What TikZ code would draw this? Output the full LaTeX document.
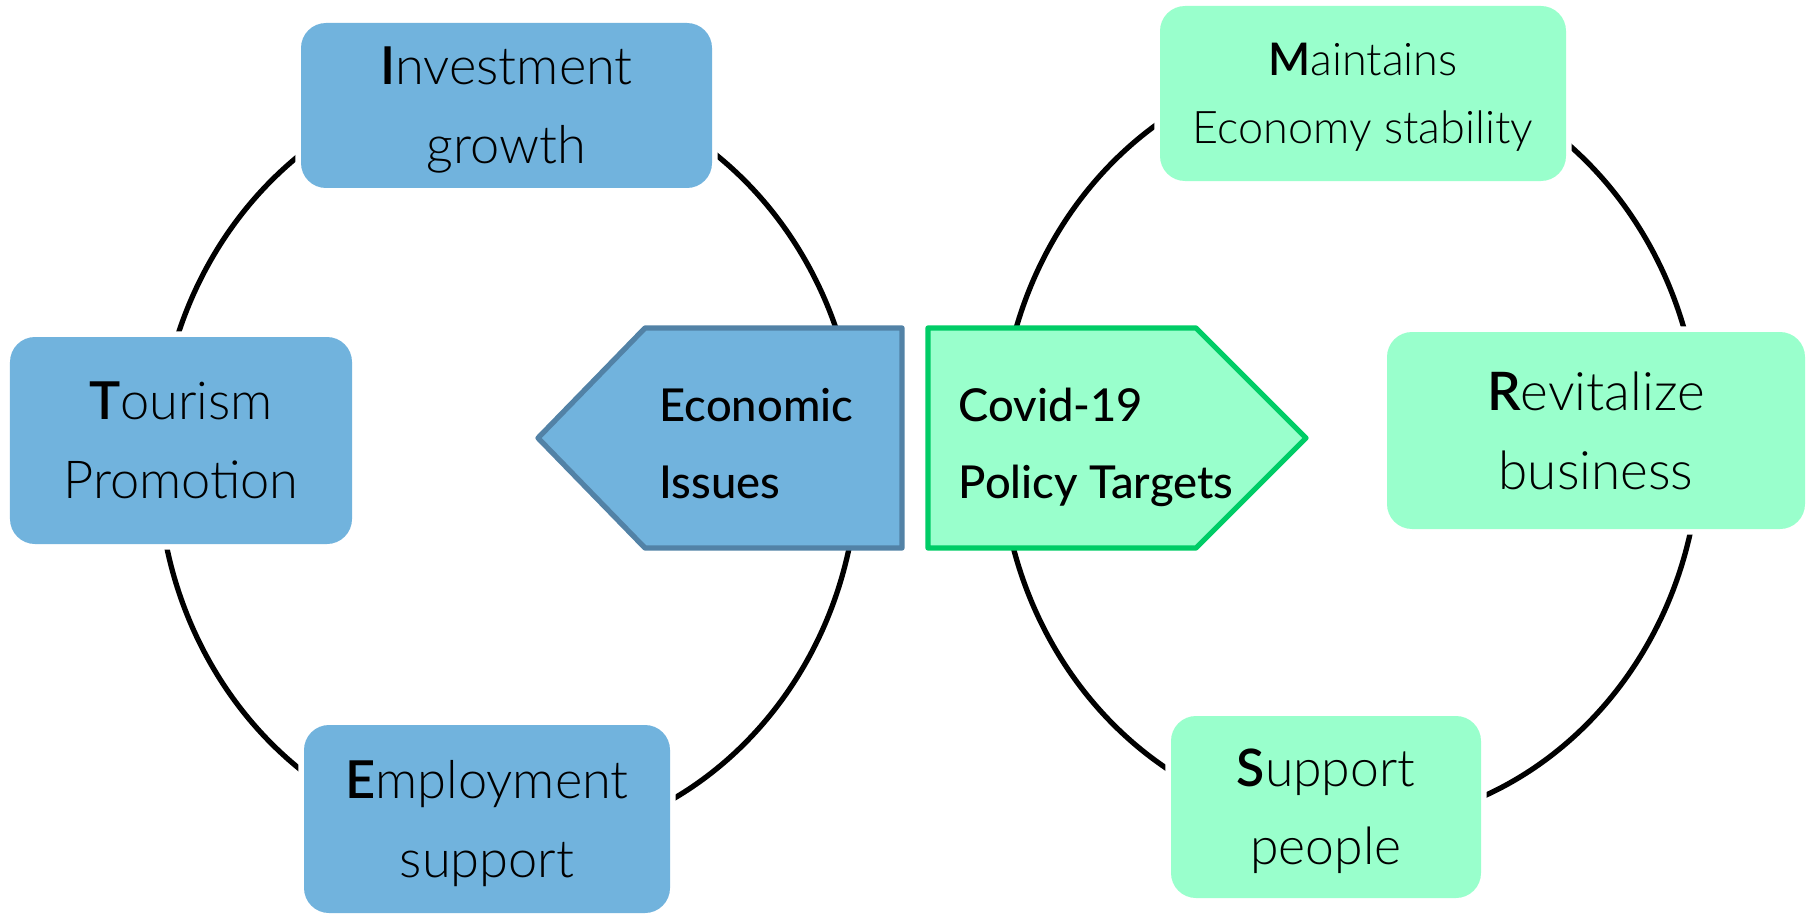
\documentclass[tikz,border=0pt]{standalone}
\usepackage{fontspec}
\setmainfont{Lato Light}[BoldFont = Lato Semibold]
\newfontfamily\medfont{Lato Medium}
\definecolor{boxblue}{RGB}{113,179,221}
\definecolor{edgeblue}{RGB}{82,130,166}
\definecolor{boxmint}{RGB}{153,255,204}
\definecolor{edgegreen}{RGB}{0,204,102}

\begin{document}
\begin{tikzpicture}
\tikzstyle{RingStyle}=[draw = black, line width = 1.5pt]
\tikzstyle{BoxStyle}=[shape = rectangle,
                      rounded corners = 0.25cm,
                      inner sep = 0pt,
                      align = center,
                      text depth = 0pt,
                      preaction = {draw = white, line width = 3.2pt}]
\tikzstyle{ArrowStyle}=[line width = 1.5pt, line join = round]
\tikzstyle{LabelStyle}=[inner sep = 0pt,
                        align = left,
                        text depth = 0pt,
                        font = \medfont\fontsize{12.9}{21.9}\selectfont]
\useasboundingbox (0,0) rectangle (18.12,9.17);
\coordinate (lring) at (5.08, 4.55);
\coordinate (rring) at (13.50, 4.74);
\draw[RingStyle] (lring) ellipse [x radius = 3.50, y radius = 3.82];
\draw[RingStyle] (rring) ellipse [x radius = 3.50, y radius = 3.82];
\draw[ArrowStyle, fill = boxblue, draw = edgeblue] (5.38,4.79) -- (6.45,5.89) -- (9.02,5.89) -- (9.02,3.69) -- (6.45,3.69) -- cycle;
\draw[ArrowStyle, fill = boxmint, draw = edgegreen] (9.28,5.89) -- (11.96,5.89) -- (13.06,4.79) -- (11.96,3.69) -- (9.28,3.69) -- cycle;
\node[LabelStyle, anchor = west] (econ) at (6.59, 4.735) {Economic\\Issues};
\node[LabelStyle, anchor = west] (covid) at (9.58, 4.735) {Covid-19\\Policy Targets};
\node[BoxStyle, fill = boxblue, minimum width = 4.11cm, minimum height = 1.65cm, font = \fontsize{14.9}{22.5}\selectfont] (invest) at (5.065, 8.115) {\textbf{I}nvestment\\growth};
\node[BoxStyle, fill = boxblue, minimum width = 3.42cm, minimum height = 2.07cm, font = \fontsize{14.9}{22.5}\selectfont] (tour) at (1.81, 4.765) {\textbf{T}ourism\\Promotion};
\node[BoxStyle, fill = boxblue, minimum width = 3.66cm, minimum height = 1.88cm, font = \fontsize{14.9}{22.5}\selectfont] (employ) at (4.87, 0.98) {\textbf{E}mployment\\support};
\node[BoxStyle, fill = boxmint, minimum width = 4.06cm, minimum height = 1.75cm, font = \fontsize{12.8}{19.4}\selectfont] (maint) at (13.63, 8.235) {\textbf{M}aintains\\Economy stability};
\node[BoxStyle, fill = boxmint, minimum width = 4.18cm, minimum height = 1.97cm, font = \fontsize{15.1}{22.5}\selectfont] (revit) at (15.96, 4.865) {\textbf{R}evitalize\\business};
\node[BoxStyle, fill = boxmint, minimum width = 3.10cm, minimum height = 1.82cm, font = \fontsize{14.7}{22.2}\selectfont] (supp) at (13.26, 1.10) {\textbf{S}upport\\people};
\end{tikzpicture}
\end{document}
